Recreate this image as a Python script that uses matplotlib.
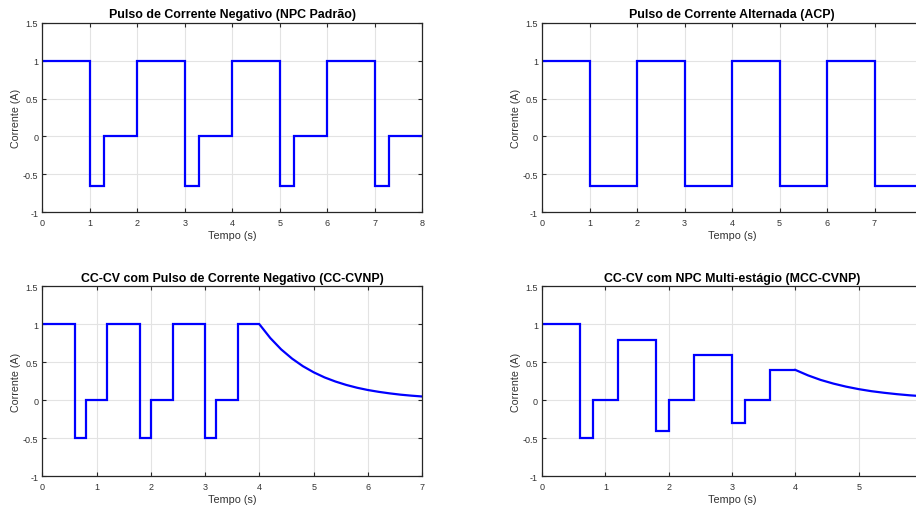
import matplotlib
matplotlib.use("Agg")
import matplotlib.pyplot as plt

plt.rcParams['font.family'] = ['Liberation Sans', 'DejaVu Sans']

# --- Pulse profiles: segment edges (s) and current level (A) of each segment ---
npc_edges = [0, 1, 1.3, 2, 3, 3.3, 4, 5, 5.3, 6, 7, 7.3, 8]
npc_levels = [1, -0.65, 0, 1, -0.65, 0, 1, -0.65, 0, 1, -0.65, 0]

acp_edges = [0, 1, 2, 3, 4, 5, 6, 7, 8]
acp_levels = [1, -0.65, 1, -0.65, 1, -0.65, 1, -0.65]

cccv_edges = [0, 0.6, 0.8, 1.2, 1.8, 2.0, 2.4, 3.0, 3.2, 3.6, 4.0]
cccv_levels = [1, -0.5, 0, 1, -0.5, 0, 1, -0.5, 0, 1]

mcc_edges = [0, 0.6, 0.8, 1.2, 1.8, 2.0, 2.4, 3.0, 3.2, 3.6, 4.0]
mcc_levels = [1, -0.5, 0, 0.8, -0.4, 0, 0.6, -0.3, 0, 0.4]

# --- Constant-voltage tails (current decay after t = 4 s) ---
cv_time = [4.0, 4.2, 4.4, 4.6, 4.8, 5.0, 5.2, 5.4, 5.6, 5.8,
           6.0, 6.2, 6.4, 6.6, 6.8, 7.0]
cccv_tail = [1.000, 0.819, 0.670, 0.549, 0.449, 0.368, 0.301, 0.247, 0.202, 0.165,
             0.135, 0.111, 0.091, 0.074, 0.061, 0.050]
mcc_tail = [0.400, 0.328, 0.268, 0.220, 0.180, 0.147, 0.120, 0.099, 0.081, 0.066,
            0.054, 0.044, 0.036, 0.030, 0.024, 0.020]

titles = ["Pulso de Corrente Negativo (NPC Padrão)",
          "Pulso de Corrente Alternada (ACP)",
          "CC-CV com Pulso de Corrente Negativo (CC-CVNP)",
          "CC-CV com NPC Multi-estágio (MCC-CVNP)"]
x_limits = [8, 8, 7, 6]
y_ticks = [-1, -0.5, 0, 0.5, 1, 1.5]
y_tick_labels = ["-1", "-0.5", "0", "0.5", "1", "1.5"]

W, H = 916, 506
fig = plt.figure(figsize=(W / 100, H / 100), dpi=100)
fig.patch.set_facecolor('white')

def px_axes(left, top, right, bottom):
    return fig.add_axes([left / W, 1 - bottom / H, (right - left) / W, (bottom - top) / H])

axes = [
    px_axes(42.3, 23.7, 422.3, 213.3),
    px_axes(542.0, 23.7, 922.0, 213.3),
    px_axes(42.3, 287.3, 422.3, 477.3),
    px_axes(542.0, 287.3, 922.0, 477.3),
]
# the right-hand panels run past the page edge, so their last x label is not shown
hide_last_label = [False, True, False, True]

blue = (0, 0, 1)
lw = 1.6
profiles = [
    (npc_edges, npc_levels, None),
    (acp_edges, acp_levels, None),
    (cccv_edges, cccv_levels, cccv_tail),
    (mcc_edges, mcc_levels, mcc_tail),
]

edge_col = '#262626'
text_col = '#333333'
for ax, (edges, levels, tail), title, xmax, hide in zip(
        axes, profiles, titles, x_limits, hide_last_label):
    ax.stairs(levels, edges, baseline=None, color=blue, linewidth=lw)
    if tail is not None:
        ax.plot(cv_time, tail, color=blue, linewidth=lw, solid_joinstyle='round')
    ax.set_xlim(0, xmax)
    ax.set_ylim(-1, 1.5)
    xt = list(range(0, xmax + 1))
    ax.set_xticks(xt)
    xl = [str(v) for v in xt]
    if hide:
        xl[-1] = ""
    ax.set_xticklabels(xl)
    ax.set_yticks(y_ticks)
    ax.set_yticklabels(y_tick_labels)
    ax.grid(True, color='#e3e3e3', linewidth=0.8)
    ax.set_axisbelow(True)
    for s in ax.spines.values():
        s.set_color(edge_col)
        s.set_linewidth(0.9)
    ax.tick_params(direction='in', length=3, width=0.8, color=edge_col,
                   labelsize=6.5, labelcolor=text_col, top=True, right=True)
    ax.tick_params(axis='x', pad=4)
    ax.tick_params(axis='y', pad=3)
    ax.set_xlabel("Tempo (s)", fontsize=7.8, color=text_col, labelpad=2)
    ax.set_ylabel("Corrente (A)", fontsize=7.7, color=text_col, labelpad=1)
    ax.set_title(title, fontsize=8.9, fontweight='bold', color='black', pad=4)

fig.savefig("out.png", dpi=100)
